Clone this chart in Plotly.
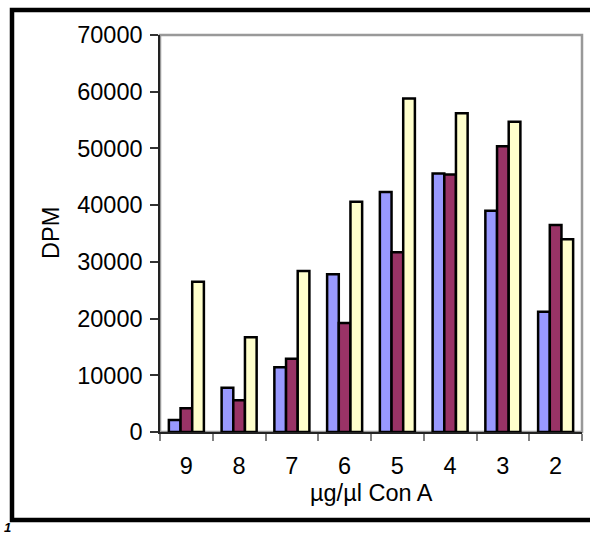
import plotly.graph_objects as go

# Con A concentration labels and DPM readings for the three series
categories = ["9", "8", "7", "6", "5", "4", "3", "2"]
series_a = [2100, 7800, 11400, 27800, 42300, 45600, 39000, 21200]
series_b = [4200, 5600, 12900, 19200, 31700, 45400, 50400, 36500]
series_c = [26500, 16700, 28400, 40600, 58800, 56200, 54700, 34000]
y_ticks = [0, 10000, 20000, 30000, 40000, 50000, 60000, 70000]

colors = ["#9999FF", "#993366", "#FFFFCC"]
FONT = "Liberation Sans, Arial, sans-serif"
FS = 23.5

W, H = 590, 535
L, R, T, B = 160, 582, 35, 432  # plot area in pixels


def px_x(x):
    return (x - L) / (R - L)


def px_y(y):
    return (B - y) / (B - T)


fig = go.Figure()
for vals, col in zip([series_a, series_b, series_c], colors):
    fig.add_trace(go.Bar(
        x=categories, y=vals,
        marker=dict(color=col, line=dict(color="black", width=2.5)),
        showlegend=False,
    ))

fig.update_layout(
    width=W, height=H,
    margin=dict(l=L, r=W - R, t=T, b=H - B),
    paper_bgcolor="white", plot_bgcolor="white",
    barmode="group", bargap=0.336, bargroupgap=0,
    font=dict(family=FONT, size=FS, color="black"),
    xaxis=dict(
        type="category", tickson="boundaries",
        ticks="outside", ticklen=7, tickwidth=1.5, tickcolor="#808080",
        showline=True, linecolor="#222", linewidth=1.5,
        showgrid=False, ticklabelstandoff=12,
        tickfont=dict(family=FONT, size=FS),
    ),
    yaxis=dict(
        range=[0, 70000], tickvals=y_ticks, tickformat="d",
        ticks="outside", ticklen=8, tickwidth=1.5, tickcolor="#333",
        showline=True, linecolor="#222", linewidth=1.5,
        showgrid=False, zeroline=False, ticklabelstandoff=3,
        tickfont=dict(family=FONT, size=FS),
    ),
    shapes=[
        # gray plot-area border (top and right)
        dict(type="rect", xref="paper", yref="paper", x0=0, x1=1, y0=0, y1=1,
             line=dict(color="#999999", width=2.5), layer="below"),
        # outer black frame
        dict(type="rect", xref="paper", yref="paper",
             x0=px_x(12), x1=px_x(600), y0=px_y(520), y1=px_y(10),
             line=dict(color="black", width=4.5)),
    ],
    annotations=[
        dict(text="DPM", xref="paper", yref="paper", x=px_x(51), y=px_y(233),
             showarrow=False, textangle=-90, font=dict(family=FONT, size=FS),
             xanchor="center", yanchor="middle"),
        dict(text="µg/µl Con A", xref="paper", yref="paper", x=px_x(371), y=px_y(493),
             showarrow=False, font=dict(family=FONT, size=FS),
             xanchor="center", yanchor="middle"),
        dict(text="<b><i>1</i></b>", xref="paper", yref="paper", x=px_x(7), y=px_y(527),
             showarrow=False, font=dict(family=FONT, size=13),
             xanchor="center", yanchor="middle"),
    ],
)

fig.write_html("out.html")
